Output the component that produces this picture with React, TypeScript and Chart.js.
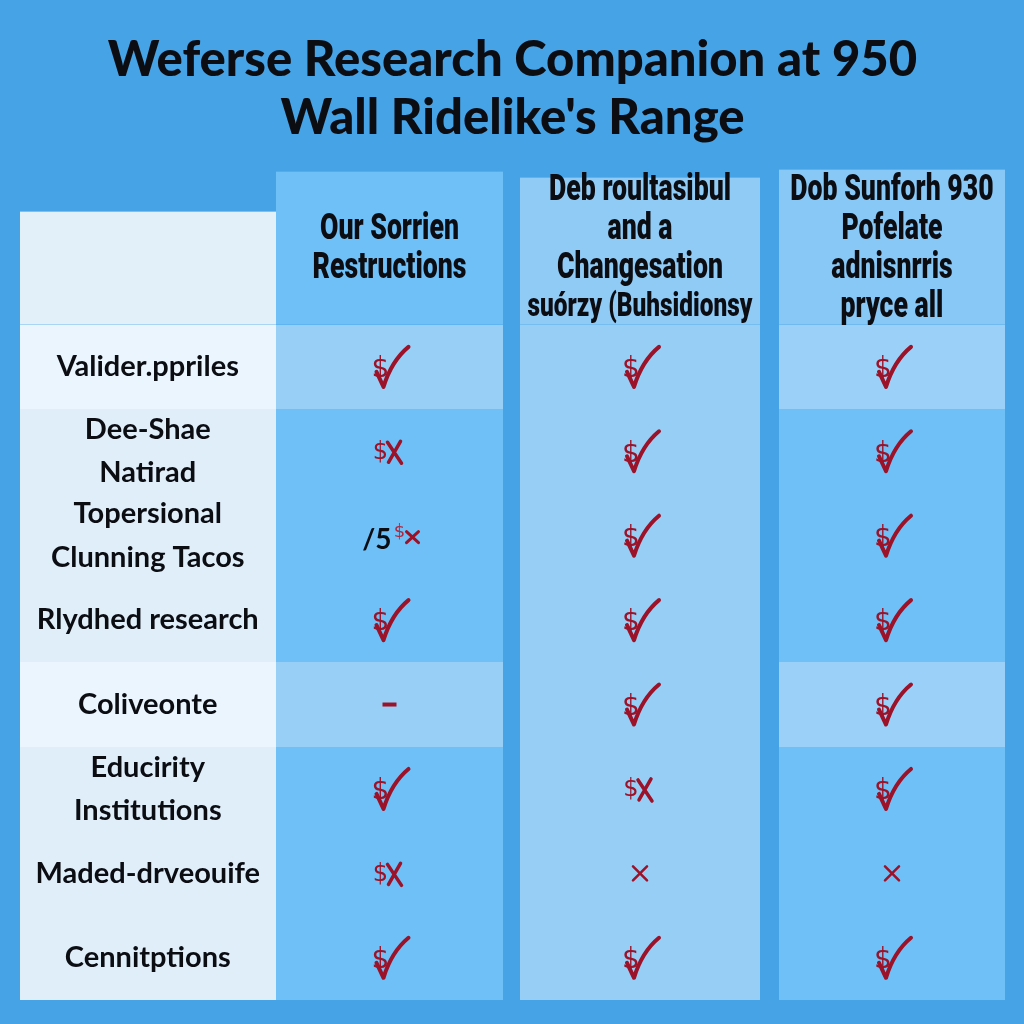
import React, { useEffect, useRef } from 'react';
import { Chart, registerables } from 'chart.js';

Chart.register(...registerables);

// ---------- data ----------
const titleLines = ['Weferse Research Companion at 950', "Wall Ridelike's Range"];

const columnHeaders = [
  'Our Sorrien\nRestructions',
  'Deb roultasibul\nand a\nChangesation\nsuórzy (Buhsidionsy',
  'Dob Sunforh 930\nPofelate\nadnisnrris\npryce all',
];

const rowLabels = [
  'Valider.ppriles',
  'Dee-Shae\nNatirad',
  'Topersional\nClunning Tacos',
  'Rlydhed research',
  'Coliveonte',
  'Educirity\nInstitutions',
  'Maded-drveouife',
  'Cennitptions',
];

const ourSorrienMarks = ['check', 'cross', 'slash5', 'check', 'dash', 'check', 'cross', 'check'];
const debRoultasibulMarks = ['check', 'check', 'check', 'check', 'check', 'cross', 'x', 'check'];
const dobSunforhMarks = ['check', 'check', 'check', 'check', 'check', 'check', 'x', 'check'];

const columnMarks = [ourSorrienMarks, debRoultasibulMarks, dobSunforhMarks];

// ---------- styles ----------
const BG = '#46A3E6';
const INK = '#0B0D13';
const RED = '#9C1228';
const LABEL_HEADER = '#E2F0FA';
const LABEL_LIGHT = '#EBF5FD';
const LABEL_DARK = '#E0EEFA';
const lightRows = [0, 4];
const colStyles = [
  { header: '#6EC0F7', light: '#98CFF7', dark: '#6FC0F7', headerH: 153, insets: [0, 16] },
  { header: '#90CBF6', light: '#96CEF6', dark: '#96CEF6', headerH: 147, insets: [1, 2] },
  { header: '#88C8F6', light: '#9BD1F8', dark: '#6FC0F7', headerH: 155, insets: [17, 0] },
];
const LABEL_HEADER_H = 113;

function drawDollar(ctx: CanvasRenderingContext2D, x: number, y: number, size: number, color = RED) {
  ctx.font = `${size}px 'DejaVu Sans', sans-serif`;
  ctx.fillStyle = color;
  ctx.textAlign = 'center';
  ctx.textBaseline = 'middle';
  ctx.fillText('$', x, y);
}

function drawMark(ctx: CanvasRenderingContext2D, kind: string, cx: number, cy: number) {
  ctx.save();
  ctx.lineCap = 'round';
  ctx.lineJoin = 'round';
  ctx.strokeStyle = RED;
  if (kind === 'check') {
    drawDollar(ctx, cx - 9, cy + 3, 28);
    ctx.lineWidth = 4;
    ctx.beginPath();
    ctx.moveTo(cx - 13, cy + 5);
    ctx.lineTo(cx - 6, cy + 20);
    ctx.quadraticCurveTo(cx + 2, cy - 6, cx + 19, cy - 20);
    ctx.stroke();
  } else if (kind === 'cross') {
    drawDollar(ctx, cx - 9, cy + 1, 24);
    ctx.lineWidth = 3.5;
    ctx.beginPath();
    ctx.moveTo(cx - 2, cy - 9);
    ctx.lineTo(cx + 12, cy + 12);
    ctx.moveTo(cx + 11, cy - 10);
    ctx.lineTo(cx - 1, cy + 11);
    ctx.stroke();
  } else if (kind === 'x') {
    ctx.lineWidth = 2.5;
    ctx.beginPath();
    ctx.moveTo(cx - 7, cy - 7);
    ctx.lineTo(cx + 7, cy + 7);
    ctx.moveTo(cx + 7, cy - 7);
    ctx.lineTo(cx - 7, cy + 7);
    ctx.stroke();
  } else if (kind === 'dash') {
    ctx.fillStyle = RED;
    ctx.fillRect(cx - 7, cy - 2, 14, 4);
  } else if (kind === 'slash5') {
    ctx.fillStyle = INK;
    ctx.font = `bold 28px Lato, sans-serif`;
    ctx.textAlign = 'right';
    ctx.textBaseline = 'middle';
    ctx.fillText('/5', cx + 2, cy + 4);
    drawDollar(ctx, cx + 10, cy - 3, 18, '#B0283F');
    ctx.lineWidth = 3;
    ctx.beginPath();
    ctx.moveTo(cx + 17, cy - 4);
    ctx.lineTo(cx + 29, cy + 7);
    ctx.moveTo(cx + 29, cy - 4);
    ctx.lineTo(cx + 17, cy + 7);
    ctx.stroke();
  }
  ctx.restore();
}

const tablePlugin = {
  id: 'tableCells',
  beforeDraw(chart: any) {
    const { ctx, chartArea: a, scales } = chart;
    const x = scales.x;
    const y = scales.y;
    ctx.save();
    ctx.fillStyle = BG;
    ctx.fillRect(0, 0, chart.width, chart.height);
    const rowH = (a.bottom - a.top) / rowLabels.length;
    const colW = (a.right - a.left) / columnHeaders.length;

    // label column
    ctx.fillStyle = LABEL_HEADER;
    ctx.fillRect(y.left, a.top - LABEL_HEADER_H, a.left - y.left, LABEL_HEADER_H);
    rowLabels.forEach((_, r) => {
      const cy = y.getPixelForValue(r);
      const t = Math.round(cy - rowH / 2);
      const b = Math.round(cy + rowH / 2);
      ctx.fillStyle = lightRows.includes(r) ? LABEL_LIGHT : LABEL_DARK;
      ctx.fillRect(y.left, t, a.left - y.left, b - t);
    });

    // data columns
    columnHeaders.forEach((_, c) => {
      const st = colStyles[c];
      const cx = x.getPixelForValue(c);
      const l = Math.round(cx - colW / 2 + st.insets[0]);
      const rgt = Math.round(cx + colW / 2 - st.insets[1]);
      ctx.fillStyle = st.header;
      ctx.fillRect(l, a.top - st.headerH, rgt - l, st.headerH);
      rowLabels.forEach((__, r) => {
        const cy = y.getPixelForValue(r);
        const t = Math.round(cy - rowH / 2);
        const b = Math.round(cy + rowH / 2);
        ctx.fillStyle = lightRows.includes(r) ? st.light : st.dark;
        ctx.fillRect(l, t, rgt - l, b - t);
      });
    });
    ctx.restore();
  },
  afterDatasetsDraw(chart: any) {
    const { ctx, chartArea: a, scales } = chart;
    const x = scales.x;
    const colW = (a.right - a.left) / columnHeaders.length;
    ctx.save();
    // headers
    const squeeze = 0.74;
    const lineGap = 39;
    columnHeaders.forEach((h, c) => {
      const st = colStyles[c];
      const cx = x.getPixelForValue(c) + (st.insets[0] - st.insets[1]) / 2;
      const maxW = colW - st.insets[0] - st.insets[1] - 14;
      const lines = h.split('\n');
      const centerY = a.top - 75;
      lines.forEach((line, i) => {
        let size = 36;
        ctx.font = `900 ${size}px Roboto, 'Liberation Sans', sans-serif`;
        const w = ctx.measureText(line).width * squeeze;
        if (w > maxW) size = Math.floor((size * maxW) / w);
        ctx.font = `900 ${size}px Roboto, 'Liberation Sans', sans-serif`;
        ctx.fillStyle = INK;
        ctx.textAlign = 'center';
        ctx.textBaseline = 'middle';
        const ly = centerY + (i - (lines.length - 1) / 2) * lineGap;
        ctx.save();
        ctx.translate(cx, ly);
        ctx.scale(squeeze, 1);
        ctx.fillText(line, 0, 0);
        ctx.restore();
      });
    });
    // marks
    chart.data.datasets.forEach((ds: any, di: number) => {
      const meta = chart.getDatasetMeta(di);
      meta.data.forEach((el: any, i: number) => {
        const raw = ds.data[i];
        const c = columnHeaders.indexOf(raw.x);
        const st = colStyles[c];
        drawMark(ctx, raw.mark, el.x + (st.insets[0] - st.insets[1]) / 2, el.y);
      });
    });
    ctx.restore();
  },
};

export default function App() {
  const ref = useRef<HTMLCanvasElement | null>(null);
  useEffect(() => {
    document.body.style.margin = '0';
    document.body.style.background = BG;
    const canvas = ref.current;
    if (!canvas) return;
    const points: any[] = [];
    columnHeaders.forEach((h, c) => {
      rowLabels.forEach((r, ri) => {
        points.push({ x: h, y: r, mark: columnMarks[c][ri] });
      });
    });
    const chart = new Chart(canvas, {
      type: 'scatter',
      data: {
        datasets: [
          {
            label: 'marks',
            data: points,
            pointRadius: 0,
            pointHoverRadius: 0,
          },
        ],
      },
      options: {
        animation: false,
        responsive: false,
        devicePixelRatio: 1,
        events: [],
        layout: { padding: { left: 20, right: 19, top: 0, bottom: 24 } },
        plugins: {
          legend: { display: false },
          tooltip: { enabled: false },
          title: {
            display: true,
            text: titleLines,
            color: INK,
            font: { family: "Lato, 'Open Sans', sans-serif", weight: 900, size: 49, lineHeight: 1.18 },
            padding: { top: 31, bottom: 178 },
          },
        },
        scales: {
          x: {
            type: 'category',
            labels: columnHeaders,
            offset: true,
            display: false,
          },
          y: {
            type: 'category',
            labels: rowLabels,
            offset: true,
            grid: { display: false, drawTicks: false },
            border: { display: false },
            ticks: {
              autoSkip: false,
              crossAlign: 'center',
              padding: 16,
              color: INK,
              font: { family: "Lato, 'Open Sans', sans-serif", weight: 'bold', size: 29, lineHeight: 1.5 },
              callback: (_v: any, i: number) => rowLabels[i].split('\n'),
            },
            afterFit: (scale: any) => {
              scale.width = 256;
              scale.paddingTop = 0;
              scale.paddingBottom = 0;
            },
          },
        },
      } as any,
      plugins: [tablePlugin],
    });
    return () => chart.destroy();
  }, []);
  return (
    <div style={{ position: 'fixed', left: 0, top: 0, width: 1024, height: 1024, background: BG }}>
      <canvas ref={ref} width={1024} height={1024} style={{ display: 'block', width: 1024, height: 1024 }} />
    </div>
  );
}
